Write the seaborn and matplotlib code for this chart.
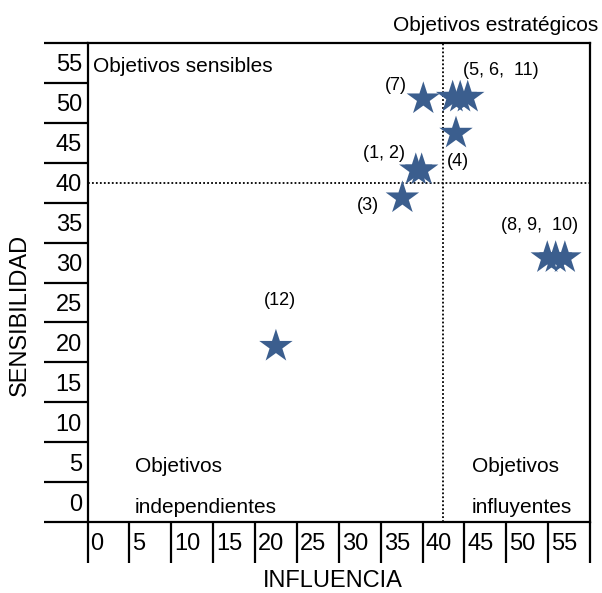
import numpy as np
import pandas as pd
import matplotlib
matplotlib.use('Agg')
import matplotlib.pyplot as plt
import matplotlib.transforms as mtransforms
import seaborn as sns

# Influencia / sensibilidad de cada objetivo
objetivos = [1, 2, 3, 4, 5, 6, 7, 8, 9, 10, 11, 12]
influencia = [36.7, 37.4, 35.1, 41.5, 41.1, 42.0, 37.6, 52.4, 53.4, 54.5, 42.9, 20.0]
sensibilidad = [41.6, 41.6, 38.1, 46.2, 50.7, 50.7, 50.5, 30.6, 30.6, 30.6, 50.7, 19.5]

# Etiquetas de grupos de puntos
etiquetas = ['(7)', '(5, 6,  11)', '(4)', '(1, 2)', '(3)', '(8, 9,  10)', '(12)']
etiqueta_x = [34.3, 46.8, 41.7, 32.9, 31.0, 51.5, 20.5]
etiqueta_y = [52.2, 54.0, 42.7, 43.7, 37.1, 34.6, 25.2]

tick_vals = list(range(0, 60, 5))
umbral = 40

df = pd.DataFrame({'obj': objetivos, 'influencia': influencia,
                   'sensibilidad': sensibilidad})

sns.set_style('white')
plt.rcParams['font.family'] = ['Liberation Sans', 'DejaVu Sans']
plt.rcParams['text.color'] = 'black'
plt.rcParams['axes.labelcolor'] = 'black'
plt.rcParams['xtick.color'] = 'black'
plt.rcParams['ytick.color'] = 'black'

fig = plt.figure(figsize=(6.02, 5.93), dpi=100)
ax = fig.add_axes([87.5 / 602, (593 - 522) / 593, 502.5 / 602, 479 / 593])

lo, hi = -2.5, 57.5
bounds = np.arange(lo, hi + 0.1, 5)

# lineas de cuadrantes
ax.axvline(umbral, color='black', linestyle=(0, (1, 1.2)), lw=1.3, zorder=1)
ax.axhline(umbral, color='black', linestyle=(0, (1, 1.2)), lw=1.3, zorder=1)

sns.scatterplot(data=df, x='influencia', y='sensibilidad', marker='*', s=640,
                color='#3B5E8E', edgecolor='none', linewidth=0, ax=ax, zorder=3,
                legend=False)

for lab, lx, ly in zip(etiquetas, etiqueta_x, etiqueta_y):
    ax.text(lx, ly, lab, ha='center', va='center', fontsize=13, color='black',
            zorder=4)

ax.set_xlim(lo, hi)
ax.set_ylim(lo, hi)

for s in ax.spines.values():
    s.set_visible(True)
    s.set_linewidth(1.6)
    s.set_color('black')

# eje x: marcas largas en los limites, etiquetas a la derecha de cada marca
ax.set_xticks(bounds)
ax.set_xticklabels([str(v) for v in tick_vals] + [''])
ax.tick_params(axis='x', which='major', direction='out', length=29.5, width=1.6,
               pad=-21.5, labelsize=17, color='black', labelcolor='black',
               bottom=True)
offset = mtransforms.ScaledTranslation(3 / 100, 0, fig.dpi_scale_trans)
for lab in ax.get_xticklabels():
    lab.set_ha('left')
    lab.set_transform(lab.get_transform() + offset)

# eje y: marcas largas en los limites, etiquetas centradas en cada banda
ax.set_yticks(bounds)
ax.set_yticklabels([])
ax.set_yticks(tick_vals, minor=True)
ax.set_yticklabels([str(v) for v in tick_vals], minor=True)
ax.tick_params(axis='y', which='major', direction='out', length=31.7, width=1.6,
               color='black', left=True)
ax.tick_params(axis='y', which='minor', length=0, pad=4, labelsize=17,
               labelcolor='black', left=True)

ax.set_xlabel('INFLUENCIA', fontsize=17, color='black')
ax.set_ylabel('SENSIBILIDAD', fontsize=17, color='black')
ax.xaxis.label.set_va('center')
ax.yaxis.label.set_va('center')
ax.xaxis.set_label_coords(0.4886, -0.1232)
ax.yaxis.set_label_coords(-0.1343, 0.432)

# nombres de cuadrantes
ax.text(0.0115, 0.9388, 'Objetivos sensibles', transform=ax.transAxes,
        ha='left', va='baseline', fontsize=15)
ax.text(1.016, 1.0257, 'Objetivos estratégicos', transform=ax.transAxes,
        ha='right', va='baseline', fontsize=15, clip_on=False)
ax.text(0.0945, 0.1044, 'Objetivos', transform=ax.transAxes,
        ha='left', va='baseline', fontsize=15)
ax.text(0.0945, 0.0194, 'independientes', transform=ax.transAxes,
        ha='left', va='baseline', fontsize=15)
ax.text(0.765, 0.1044, 'Objetivos', transform=ax.transAxes,
        ha='left', va='baseline', fontsize=15)
ax.text(0.765, 0.0194, 'influyentes', transform=ax.transAxes,
        ha='left', va='baseline', fontsize=15)

ax.grid(False)
fig.savefig('out.png', dpi=100)
plt.close(fig)
